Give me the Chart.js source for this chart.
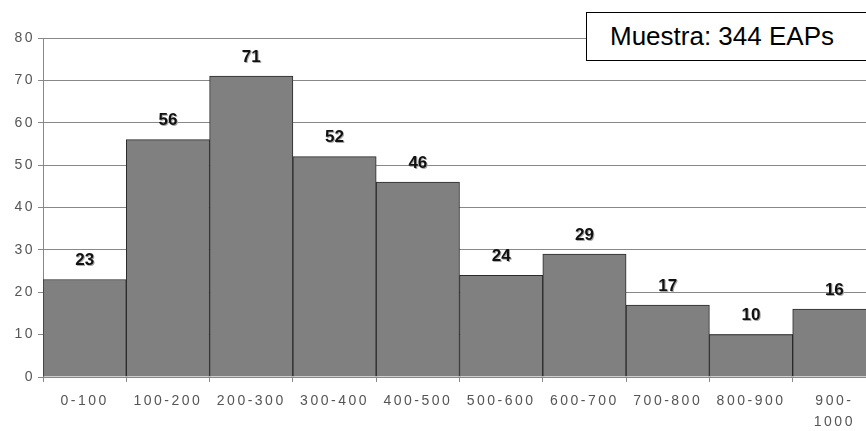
<!DOCTYPE html>
<html>
<head>
<meta charset="utf-8">
<script src="https://cdn.jsdelivr.net/npm/chart.js@4/dist/chart.umd.min.js"></script>
<style>
	html, body { margin: 0; padding: 0; background: #fff; overflow: hidden; }
	#wrap { position: relative; width: 880px; height: 431px; }
	#muestra {
		position: absolute; left: 586px; top: 12px; width: 300px; height: 49px;
		border: 1px solid #000; background: #fff; box-sizing: border-box;
		font-family: 'Liberation Sans', Arial, sans-serif; font-size: 26px;
		line-height: 47px; padding-left: 23px; color: #000;
	}
</style>
</head>
<body>
<div id="wrap">
	<canvas id="chart" width="880" height="431"></canvas>
	<div id="muestra">Muestra: 344 EAPs</div>
</div>
<script>
const categories = ['0-100', '100-200', '200-300', '300-400', '400-500', '500-600', '600-700', '700-800', '800-900', ['900-', '1000']];
const counts = [23, 56, 71, 52, 46, 24, 29, 17, 10, 16];
const yTicks = [0, 10, 20, 30, 40, 50, 60, 70, 80];

const fontFamily = "'Liberation Sans', Arial, sans-serif";

// tick labels in the original are spaced out a bit
const spacedText = {
	id: 'spacedText',
	beforeDraw(chart) {
		chart.ctx.letterSpacing = '2.5px';
	},
	beforeDatasetsDraw(chart) {
		chart.ctx.letterSpacing = '0px';
	},
};

// Draw the numbers above each bar
const barLabels = {
	id: 'barLabels',
	afterDatasetsDraw(chart) {
		const ctx = chart.ctx;
		const meta = chart.getDatasetMeta(0);
		ctx.save();
		ctx.letterSpacing = '0px';
		ctx.font = 'bold 17px ' + fontFamily;
		ctx.textAlign = 'center';
		ctx.textBaseline = 'middle';
		meta.data.forEach((bar, i) => {
			ctx.fillStyle = '#aaa';
			ctx.fillText(counts[i], bar.x + 1, bar.y - 19 + 1);
			ctx.fillStyle = '#111';
			ctx.fillText(counts[i], bar.x, bar.y - 19);
		});
		ctx.restore();
	},
};

new Chart(document.getElementById('chart'), {
	type: 'bar',
	data: {
		labels: categories,
		datasets: [{
			data: counts,
			backgroundColor: '#808080',
			borderColor: '#2a2a2a',
			borderWidth: { top: 1, left: 1, right: 1, bottom: 0 },
			barPercentage: 1,
			categoryPercentage: 1,
		}],
	},
	options: {
		animation: false,
		responsive: false,
		layout: { padding: { top: 38, right: 4, left: 0, bottom: 0 } },
		plugins: {
			legend: { display: false },
			tooltip: { enabled: false },
		},
		scales: {
			x: {
				afterFit: (scale) => { scale.height = 54; },
				grid: {
					offset: true,
					drawOnChartArea: false,
					drawTicks: true,
					tickLength: 5,
					color: '#888',
				},
				border: { color: '#888' },
				ticks: {
					color: '#555',
					font: { family: fontFamily, size: 14, lineHeight: 1.55 },
					padding: 8,
					maxRotation: 0,
					autoSkip: false,
				},
			},
			y: {
				min: 0,
				max: 80,
				afterFit: (scale) => { scale.width = 43; },
				afterBuildTicks: (scale) => { scale.ticks = yTicks.map((v) => ({ value: v })); },
				grid: { color: '#888', tickLength: 5 },
				border: { color: '#888' },
				ticks: {
					color: '#555',
					font: { family: fontFamily, size: 14 },
					padding: 3,
				},
			},
		},
	},
	plugins: [spacedText, barLabels],
});
</script>
</body>
</html>
